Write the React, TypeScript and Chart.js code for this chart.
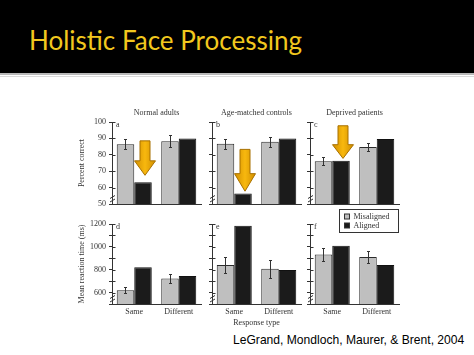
import React, { useEffect, useRef } from 'react';
import { Chart, registerables } from 'chart.js';

Chart.register(...registerables);

// ---------- data ----------
const categories = ['Same', 'Different'];
const seriesLabels = ['Misaligned', 'Aligned'];
const panelLetters = ['a', 'b', 'c', 'd', 'e', 'f'];
const panelTitles = ['Normal adults', 'Age-matched controls', 'Deprived patients'];

// Percent correct (top row)
const normalAdultsMisaligned = [86.5, 88.3];
const normalAdultsAligned = [63.3, 90.0];
const normalAdultsError = [3.0, 3.5];
const ageMatchedMisaligned = [86.8, 88.0];
const ageMatchedAligned = [56.4, 90.0];
const ageMatchedError = [3.0, 3.0];
const deprivedMisaligned = [76.0, 84.8];
const deprivedAligned = [76.3, 89.7];
const deprivedError = [2.5, 2.5];

// Mean reaction time in ms (bottom row)
const normalAdultsRTMisaligned = [620, 724];
const normalAdultsRTAligned = [822, 744];
const normalAdultsRTError = [28, 37];
const ageMatchedRTMisaligned = [842, 808];
const ageMatchedRTAligned = [1185, 798];
const ageMatchedRTError = [70, 80];
const deprivedRTMisaligned = [934, 912];
const deprivedRTAligned = [1010, 842];
const deprivedRTError = [60, 53];

// axes
const accuracyAxis = [50, 100, 10];
const rtAxis = [500, 1200, 100];
const yAxisTitles = ['Percent correct', 'Mean reaction time (ms)'];
const xAxisTitle = 'Response type';

// highlight arrows over the aligned "Same" bar (start value, tip value), top row
const arrowStart = [88.5, 83.3, 97.7];
const arrowTip = [67.5, 57.8, 77.8];

const citation = 'LeGrand, Mondloch, Maurer, & Brent, 2004';
const slideTitle = 'Holistic Face Processing';

// ---------- layout ----------
const COL_LEFT = [112, 212, 310];
const PLOT_W = 89;
const ROW_TOP = [122, 224];
const PLOT_H = [82, 80];
const PAD_TOP = 20;
const PAD_RIGHT = 3;
const X_H = [10, 24];
const Y_W = [36, 6, 6];

const INK = '#333';
const GRAY = '#bfbfbf';
const BLACK = '#1b1b1b';
const SERIF = '"Liberation Serif", "Times New Roman", serif';

type PanelSpec = {
  idx: number;
  row: number;
  col: number;
  mis: number[];
  ali: number[];
  err: number[];
  arrow?: [number, number];
};

const panels: PanelSpec[] = [
  { idx: 0, row: 0, col: 0, mis: normalAdultsMisaligned, ali: normalAdultsAligned, err: normalAdultsError, arrow: [arrowStart[0], arrowTip[0]] },
  { idx: 1, row: 0, col: 1, mis: ageMatchedMisaligned, ali: ageMatchedAligned, err: ageMatchedError, arrow: [arrowStart[1], arrowTip[1]] },
  { idx: 2, row: 0, col: 2, mis: deprivedMisaligned, ali: deprivedAligned, err: deprivedError, arrow: [arrowStart[2], arrowTip[2]] },
  { idx: 3, row: 1, col: 0, mis: normalAdultsRTMisaligned, ali: normalAdultsRTAligned, err: normalAdultsRTError },
  { idx: 4, row: 1, col: 1, mis: ageMatchedRTMisaligned, ali: ageMatchedRTAligned, err: ageMatchedRTError },
  { idx: 5, row: 1, col: 2, mis: deprivedRTMisaligned, ali: deprivedRTAligned, err: deprivedRTError },
];

function drawArrow(ctx: CanvasRenderingContext2D, cx: number, yTop: number, yTip: number) {
  const len = yTip - yTop;
  const headH = len * 0.42;
  const sw = 10;
  const hw = 21;
  const yh = yTip - headH;
  ctx.save();
  ctx.beginPath();
  ctx.moveTo(cx - sw / 2, yTop);
  ctx.lineTo(cx + sw / 2, yTop);
  ctx.lineTo(cx + sw / 2, yh);
  ctx.lineTo(cx + hw / 2, yh);
  ctx.lineTo(cx, yTip);
  ctx.lineTo(cx - hw / 2, yh);
  ctx.lineTo(cx - sw / 2, yh);
  ctx.closePath();
  const g = ctx.createLinearGradient(cx - hw / 2, 0, cx + hw / 2, 0);
  g.addColorStop(0, '#d08e00');
  g.addColorStop(0.5, '#f8b80e');
  g.addColorStop(1, '#d08e00');
  ctx.fillStyle = g;
  ctx.fill();
  ctx.strokeStyle = '#a87000';
  ctx.lineWidth = 1;
  ctx.stroke();
  ctx.restore();
}

function Panel({ spec }: { spec: PanelSpec }) {
  const ref = useRef<HTMLCanvasElement>(null);
  const { row, col, idx } = spec;
  const yW = Y_W[col];
  const w = yW + PLOT_W + PAD_RIGHT;
  const h = PAD_TOP + PLOT_H[row] + X_H[row];
  const left = COL_LEFT[col] - yW;
  const top = ROW_TOP[row] - PAD_TOP;

  useEffect(() => {
    const canvas = ref.current;
    if (!canvas) return;
    const axis = row === 0 ? accuracyAxis : rtAxis;

    const decorPlugin = {
      id: 'decor' + idx,
      afterDatasetsDraw(chart: any) {
        const ctx: CanvasRenderingContext2D = chart.ctx;
        const ys = chart.scales.y;
        // error bars on misaligned bars
        const meta = chart.getDatasetMeta(0);
        ctx.save();
        ctx.strokeStyle = INK;
        ctx.lineWidth = 1;
        meta.data.forEach((el: any, i: number) => {
          const v = spec.mis[i];
          const e = spec.err[i];
          const x = Math.round(el.x) + 0.5;
          const yHi = Math.round(ys.getPixelForValue(v + e)) + 0.5;
          const yLo = Math.round(ys.getPixelForValue(v - e)) + 0.5;
          ctx.beginPath();
          ctx.moveTo(x, yHi);
          ctx.lineTo(x, yLo);
          ctx.moveTo(x - 1.5, yHi);
          ctx.lineTo(x + 1.5, yHi);
          ctx.moveTo(x - 1.5, yLo);
          ctx.lineTo(x + 1.5, yLo);
          ctx.stroke();
        });
        ctx.restore();
        if (spec.arrow) {
          const aMeta = chart.getDatasetMeta(1);
          const el = aMeta.data[0];
          drawArrow(ctx, el.x + 2, ys.getPixelForValue(spec.arrow[0]), ys.getPixelForValue(spec.arrow[1]));
        }
      },
      afterDraw(chart: any) {
        const ctx: CanvasRenderingContext2D = chart.ctx;
        const ys = chart.scales.y;
        const ca = chart.chartArea;
        const ax = Math.round(ca.left) + 0.5;
        ctx.save();
        ctx.strokeStyle = INK;
        ctx.lineWidth = 1;
        // inner half of tick marks
        ys.ticks.forEach((t: any) => {
          if (t.value === ys.min) return;
          const y = Math.round(ys.getPixelForValue(t.value)) + 0.5;
          ctx.beginPath();
          ctx.moveTo(ax, y);
          ctx.lineTo(ax + 3, y);
          ctx.stroke();
        });
        // axis break mark
        const b = ca.bottom;
        [7, 3.5].forEach((d) => {
          ctx.beginPath();
          ctx.moveTo(ax - 2.5, b - d + 1.5);
          ctx.lineTo(ax + 2.5, b - d - 1.5);
          ctx.stroke();
        });
        // panel letter
        ctx.fillStyle = INK;
        ctx.font = '8px ' + SERIF;
        ctx.textBaseline = 'middle';
        ctx.textAlign = 'left';
        ctx.fillText(panelLetters[idx], ca.left + 4, ca.top + 2.5);
        // panel title
        if (row === 0) {
          ctx.textAlign = 'center';
          ctx.fillText(panelTitles[col], (ca.left + ca.right) / 2, ca.top - 9);
        }
        // legend (panel f)
        if (idx === 5) {
          const x0 = Math.round(ca.right - 60) + 0.5;
          const y0 = Math.round(ca.top - 15) + 0.5;
          ctx.fillStyle = '#fff';
          ctx.fillRect(x0, y0, 59, 23);
          ctx.strokeRect(x0, y0, 59, 23);
          chart.data.datasets.forEach((ds: any, i: number) => {
            const cy = y0 + 7 + i * 9.5;
            ctx.fillStyle = ds.backgroundColor;
            ctx.fillRect(x0 + 5, Math.round(cy - 3), 5, 5);
            ctx.strokeRect(x0 + 5, Math.round(cy - 3), 5, 5);
            ctx.fillStyle = INK;
            ctx.textAlign = 'left';
            ctx.fillText(ds.label, x0 + 14, cy);
          });
        }
        ctx.restore();
      },
    };

    const chart = new Chart(canvas, {
      type: 'bar',
      data: {
        labels: categories,
        datasets: [
          { label: seriesLabels[0], data: spec.mis, backgroundColor: GRAY, borderColor: '#2a2a2a', borderWidth: 1, categoryPercentage: 0.787, barPercentage: 1 },
          { label: seriesLabels[1], data: spec.ali, backgroundColor: BLACK, borderColor: '#111', borderWidth: 1, categoryPercentage: 0.787, barPercentage: 1 },
        ],
      },
      options: {
        responsive: false,
        animation: false,
        devicePixelRatio: 1,
        layout: { padding: { top: PAD_TOP, left: 0, right: PAD_RIGHT, bottom: 0 } },
        font: { family: SERIF },
        plugins: { legend: { display: false }, tooltip: { enabled: false } },
        scales: {
          x: {
            type: 'category',
            offset: true,
            afterFit: (s: any) => { s.height = X_H[row]; },
            grid: { display: false, drawTicks: false, tickLength: 0 },
            border: { color: INK, width: 1 },
            ticks: { display: row === 1, padding: 3, color: INK, font: { size: 8, family: SERIF }, maxRotation: 0, autoSkip: false },
            title: { display: idx === 4, text: xAxisTitle, color: INK, font: { size: 8, family: SERIF }, padding: { top: 0, bottom: 0 } },
          },
          y: {
            min: axis[0],
            max: axis[1],
            afterFit: (s: any) => { s.width = yW; },
            grid: { drawOnChartArea: false, drawTicks: true, tickLength: 3, color: INK, lineWidth: 1 },
            border: { color: INK, width: 1 },
            ticks: {
              display: col === 0,
              stepSize: axis[2],
              autoSkip: false,
              padding: 3,
              color: INK,
              font: { size: 8, family: SERIF },
              callback: (v: any) => (row === 1 ? (Number(v) % 200 === 0 ? String(v) : '') : String(v)),
            },
            title: { display: col === 0, text: yAxisTitles[row], color: INK, font: { size: 8, family: SERIF }, padding: { top: 1, bottom: 0 } },
          },
        },
      },
      plugins: [decorPlugin],
    } as any);
    return () => chart.destroy();
  }, []);

  return (
    <canvas
      ref={ref}
      width={w}
      height={h}
      style={{ position: 'absolute', left, top, width: w, height: h }}
    />
  );
}

export default function App() {
  return (
    <div style={{ position: 'absolute', left: 0, top: 0, width: 474, height: 355, background: '#fff', overflow: 'hidden' }}>
      <div style={{ position: 'absolute', left: 0, top: 0, width: 474, height: 73, background: '#000' }}>
        <div
          style={{
            position: 'absolute',
            left: 29,
            top: 27,
            fontFamily: 'Lato, "Open Sans", sans-serif',
            fontSize: 26,
            lineHeight: 1,
            color: '#f2c81e',
            whiteSpace: 'nowrap',
          }}
        >
          {slideTitle}
        </div>
      </div>
      <div style={{ position: 'absolute', left: 0, top: 73, width: 474, height: 2, background: '#b8b8b8' }} />
      <div style={{ position: 'absolute', left: 0, top: 76, width: 474, height: 1, background: '#dadada' }} />
      {panels.map((p) => (
        <Panel key={p.idx} spec={p} />
      ))}
      <div
        style={{
          position: 'absolute',
          left: 233,
          top: 332,
          fontFamily: '"Liberation Sans", Arial, sans-serif',
          fontSize: 12.1,
          lineHeight: '16px',
          color: '#000',
          whiteSpace: 'nowrap',
        }}
      >
        {citation}
      </div>
    </div>
  );
}
